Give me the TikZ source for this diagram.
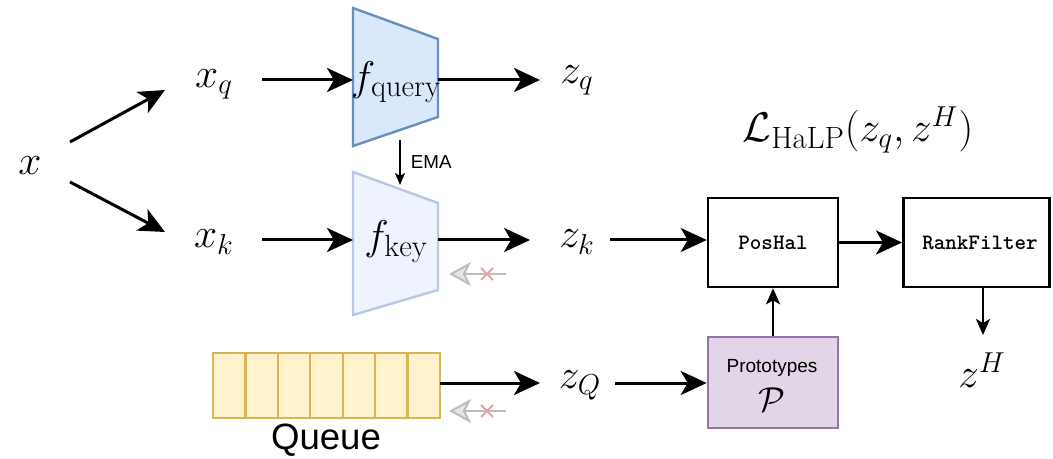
\documentclass[tikz,border=0pt]{standalone}
\usepackage{fontspec}
\usetikzlibrary{arrows.meta}
\newfontfamily\sansfam{Liberation Sans}
\definecolor{qfill}{HTML}{DAE8FC}
\definecolor{qline}{HTML}{6C8EBF}
\definecolor{kfill}{HTML}{EEF3FD}
\definecolor{kline}{HTML}{B7C9E5}
\definecolor{yfill}{HTML}{FFF2CC}
\definecolor{yline}{HTML}{D6B656}
\definecolor{pfill}{HTML}{E1D5E7}
\definecolor{pline}{HTML}{9673A6}
\definecolor{ghost}{HTML}{BDBDBD}
\definecolor{ghostx}{HTML}{E3A3A8}
\tikzset{
  mathlbl/.style={inner sep=0pt, font=\fontsize{22}{26}\selectfont},
  flow/.style={line width=1.5pt, -{Stealth[length=13pt,width=12pt,inset=3.5pt]}},
  thinflow/.style={line width=0.9pt, -{Stealth[length=6pt,width=5pt,inset=1.5pt]}},
  midflow/.style={line width=1.3pt, -{Stealth[length=8pt,width=7pt,inset=2pt]}},
  block/.style={draw, line width=1.3pt, minimum width=65pt, minimum height=44.5pt, inner sep=0pt},
  codelbl/.style={font=\ttfamily\bfseries\fontsize{11}{13}\selectfont},
  ghostarrow/.style={draw=ghost, line width=1pt, -{Stealth[length=11pt,width=12pt,inset=3pt,fill=ghost!40]}},
  cross/.style={draw=ghostx, line width=1pt},
}
\begin{document}
\begin{tikzpicture}[x=0.5pt,y=-0.5pt]
\useasboundingbox (0,0) rectangle (1053,459);

% input and its two views
\node[mathlbl] (x) at (30,166) {$x$};
\node[mathlbl] (xq) at (214,84) {$x_q$};
\node[mathlbl] (xk) at (214,242) {$x_k$};
\coordinate (xa) at (70,142);
\coordinate (xb) at (70,182);
\coordinate (xqin) at (165,90);
\coordinate (xkin) at (165,232);
\draw[flow] (xa) -- (xqin);
\draw[flow] (xb) -- (xkin);

% encoders
\draw[fill=qfill, draw=qline, line width=1.2pt] (353,8) -- (438,39) -- (438,117) -- (353,146) -- cycle;
\draw[fill=kfill, draw=kline, line width=1.2pt] (353,172) -- (438,203) -- (438,290) -- (353,315) -- cycle;
\node[mathlbl] (fq) at (396,82) {$f_{\mathrm{query}}$};
\node[mathlbl] (fk) at (396,242) {$f_{\mathrm{key}}$};
\coordinate (fqin) at (353,80);
\coordinate (fqout) at (438,80);
\coordinate (fkin) at (353,240);
\coordinate (fkout) at (438,240);
\coordinate (fqbot) at (400,140);
\coordinate (fktop) at (400,185);

\coordinate (xqout) at (262,80);
\coordinate (xkout) at (262,240);
\draw[flow] (xqout) -- (fqin);
\draw[flow] (xkout) -- (fkin);
\draw[thinflow] (fqbot) -- node[right=5pt, font=\sansfam\fontsize{9.4}{11}\selectfont, inner sep=0pt] (ema) {EMA} (fktop);

% outputs
\node[mathlbl] (zq) at (577,80) {$z_q$};
\node[mathlbl] (zk) at (577,242) {$z_k$};
\coordinate (zqin) at (540,80);
\coordinate (zkin) at (530,240);
\draw[flow] (fqout) -- (zqin);
\draw[flow] (fkout) -- (zkin);

% blocked gradient paths
\coordinate (g1s) at (506,274);
\coordinate (g1e) at (449,274);
\draw[ghostarrow] (g1s) -- (g1e);
\draw[cross] (481,268) -- (493,280) (481,280) -- (493,268);
\coordinate (g2s) at (506,411);
\coordinate (g2e) at (449,411);
\draw[ghostarrow] (g2s) -- (g2e);
\draw[cross] (481,405) -- (493,417) (481,417) -- (493,405);

% queue of keys
\foreach \i in {0,...,6} {
  \draw[fill=yfill, draw=yline, line width=1.2pt] ({213+\i*32.43},353) rectangle ({213+(\i+1)*32.43},418);
}
\node[font=\sansfam\fontsize{18.3}{22}\selectfont, inner sep=0pt] (queue) at (326,440) {Queue};
\coordinate (qout) at (440,383);
\node[mathlbl] (zQ) at (580,385) {$z_Q$};
\coordinate (zQin) at (540,383);
\draw[flow] (qout) -- (zQin);

% hallucination pipeline
\node[block] (poshal) at (773,242.5) {};
\node[codelbl] (poshallbl) at (poshal.center) {PosHal};
\node[block, minimum width=73pt, anchor=west] (rank) at (902,242.5) {};
\node[codelbl] (ranklbl) at (980,242.5) {RankFilter};
\node[block, draw=pline, fill=pfill, minimum height=45.5pt] (proto) at (773,382.5) {};
\node[font=\sansfam\fontsize{9.5}{11}\selectfont, inner sep=0pt] (protolbl) at (772,368) {Prototypes};
\node[font=\fontsize{17}{20}\selectfont, inner sep=0pt] (protosym) at (772,400) {$\mathcal{P}$};
\node[mathlbl] (zH) at (982,370) {$z^H$};
\node[mathlbl] (loss) at (858,130) {$\mathcal{L}_{\mathrm{HaLP}}(z_q, z^H)$};

\coordinate (zkout) at (610,240);
\coordinate (zQout) at (615,383);
\draw[flow] (zkout) -- (zkout -| poshal.west);
\draw[flow] (zQout) -- (zQout -| proto.west);
\draw[flow] (poshal.east) -- (rank.west);
\draw[midflow] (proto.north) -- (poshal.south);
\coordinate (rbot) at (983,287);
\coordinate (zHtop) at (983,335);
\draw[midflow] (rbot) -- (zHtop);
\end{tikzpicture}
\end{document}
